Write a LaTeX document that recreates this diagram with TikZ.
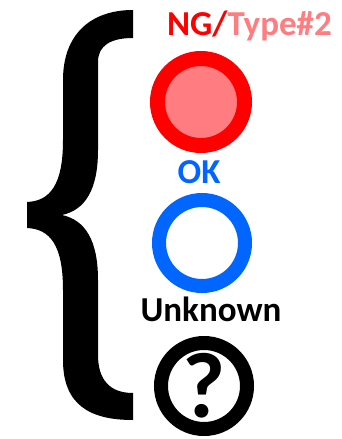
\documentclass[tikz,border=0pt]{standalone}
\usepackage{fontspec}
\setmainfont{Carlito}
\usepackage{tikz}
\usetikzlibrary{positioning}
\definecolor{ngred}{RGB}{255,0,0}
\definecolor{typepink}{RGB}{255,124,128}
\definecolor{okblue}{RGB}{0,102,255}

\begin{document}
\begin{tikzpicture}[
  x=1pt, y=-1pt,
  lbl/.style={inner sep=0pt,anchor=base,font=\bfseries\fontsize{35}{35}\selectfont},
  ring/.style={circle,inner sep=0pt,minimum size=86pt,line width=14pt,fill=white}
]
\useasboundingbox (0,0) rectangle (342,439);
% the big curly brace
\fill[black] (133,10) .. controls (90,10) and (63,35) .. (63,80)
  -- (63,140) .. controls (63,185) and (50,201) .. (27,202)
  -- (27,228) .. controls (50,229) and (63,245) .. (63,290)
  -- (63,360) .. controls (63,405) and (90,420) .. (133,420)
  -- (133,393) .. controls (110,393) and (98,380) .. (98,355)
  -- (98,280) .. controls (98,240) and (85,220) .. (62,215)
  .. controls (85,210) and (98,190) .. (98,150)
  -- (98,62) .. controls (98,46) and (110,38) .. (133,38) -- cycle;
% states
\node[lbl] (nglbl) at (249.5,35) {\textcolor{ngred}{NG/}\textcolor{typepink}{Type\#2}};
\node[ring,draw=ngred,fill=typepink,minimum size=87pt,line width=15pt] (ng) at (201,102) {};
\node[lbl,text=okblue] (oklbl) at (199,183) {OK};
\node[ring,draw=okblue] (ok) at (202,243) {};
\node[lbl,text=black] (unklbl) at (211,321) {Unknown};
\node[ring,draw=black] (unk) at (204,386) {};
\node[inner sep=0pt,font=\bfseries\fontsize{93}{93}\selectfont] (qmark) at (unk.center) {?};
\end{tikzpicture}
\end{document}
